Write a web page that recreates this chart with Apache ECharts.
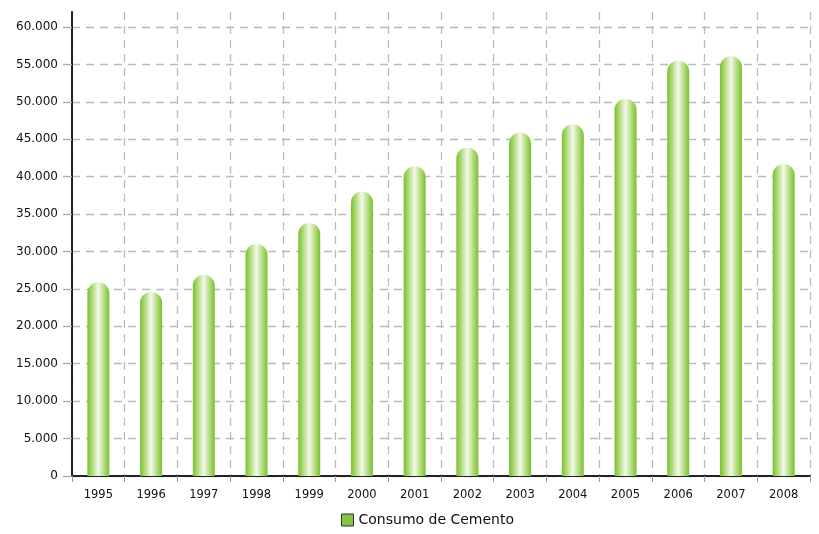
<!DOCTYPE html>
<html>
<head>
<meta charset="utf-8">
<script src="https://cdn.jsdelivr.net/npm/echarts@6/dist/echarts.min.js"></script>
<style>
  html, body { margin: 0; padding: 0; background: #fff; }
  #main { width: 819px; height: 534px; }
</style>
</head>
<body>
<div id="main"></div>
<script>
// años y consumo (miles de t aprox.)
const years = ['1995', '1996', '1997', '1998', '1999', '2000', '2001', '2002', '2003', '2004', '2005', '2006', '2007', '2008'];
const consumo = [25900, 24600, 26900, 31000, 33800, 38000, 41400, 43900, 45900, 47000, 50400, 55500, 56100, 41700];
const seriesName = 'Consumo de Cemento';

const chart = echarts.init(document.getElementById('main'), null, { renderer: 'canvas' });

const barFill = new echarts.graphic.LinearGradient(0, 0, 1, 0, [
  { offset: 0, color: '#78bf30' },
  { offset: 0.18, color: '#a6d66a' },
  { offset: 0.5, color: '#f3f9ea' },
  { offset: 0.82, color: '#a6d66a' },
  { offset: 1, color: '#78bf30' }
]);

const fmt = v => {
  if (v === 0) return '0';
  return String(v).replace(/\B(?=(\d{3})+(?!\d))/g, '.');
};

const option = {
  animation: false,
  textStyle: { fontFamily: 'DejaVu Sans' },
  grid: { left: 72, right: 9, top: 12, bottom: 58 },
  legend: {
    data: [{ name: seriesName, icon: 'rect', itemStyle: { color: '#86c540', borderColor: '#333', borderWidth: 1 } }],
    bottom: 2,
    left: 336,
    itemWidth: 12,
    itemHeight: 12,
    itemGap: 3,
    textStyle: { fontSize: 14, color: '#111', fontFamily: 'DejaVu Sans' }
  },
  xAxis: {
    type: 'category',
    data: years,
    axisLine: { lineStyle: { color: '#222', width: 2 } },
    axisTick: { show: true, length: 6, lineStyle: { color: '#999' } },
    axisLabel: { color: '#111', fontSize: 11.5, margin: 13 },
    splitLine: { show: true, lineStyle: { color: '#bbb', type: [8, 6], width: 1.3 } }
  },
  yAxis: {
    type: 'value',
    min: 0,
    max: 62000,
    interval: 5000,
    axisLine: { show: true, lineStyle: { color: '#222', width: 2 } },
    axisTick: { show: true, length: 9, lineStyle: { color: '#aaa', width: 1.3 } },
    axisLabel: { color: '#111', fontSize: 12, margin: 14, showMaxLabel: false, formatter: fmt },
    splitLine: { show: true, showMaxLine: false, lineStyle: { color: '#bbb', type: [8, 6], width: 1.3 } }
  },
  series: [{
    name: seriesName,
    type: 'bar',
    data: consumo,
    barWidth: 22,
    itemStyle: { color: barFill, borderRadius: [11, 11, 0, 0] }
  }]
};

chart.setOption(option);
</script>
</body>
</html>
